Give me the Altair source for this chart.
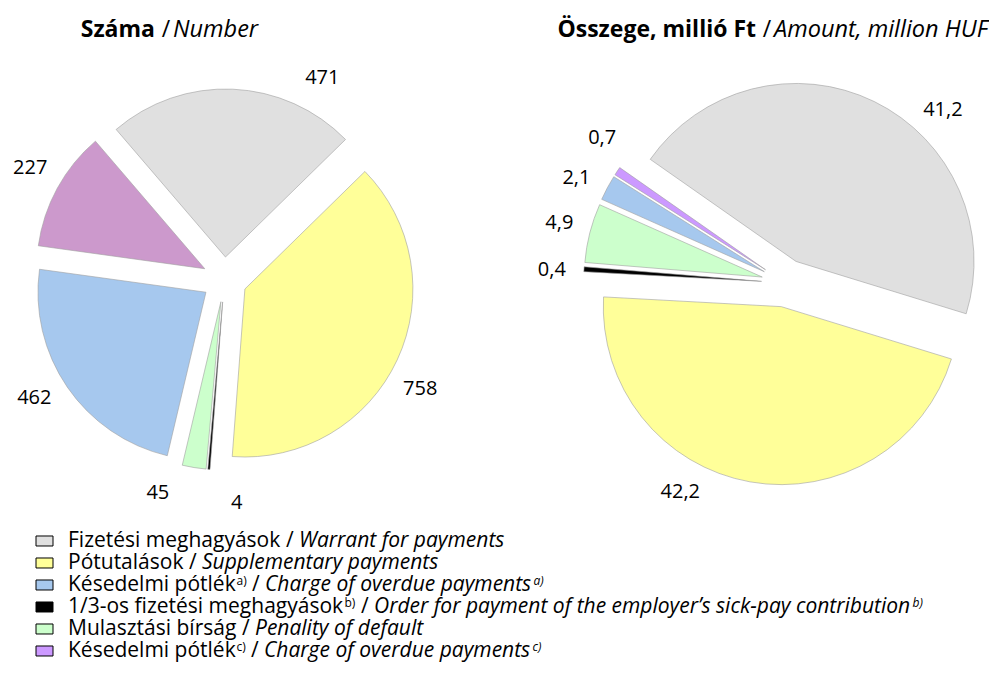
import math
import altair as alt
import pandas as pd

# ---------------- data ----------------
categories_hu = [
    "Fizetési meghagyások",
    "Pótutalások",
    "Késedelmi pótlék",
    "1/3-os fizetési meghagyások",
    "Mulasztási bírság",
    "Késedelmi pótlék",
]
categories_en = [
    "Warrant for payments",
    "Supplementary payments",
    "Charge of overdue payments",
    "Order for payment of the employer’s sick-pay contribution",
    "Penality of default",
    "Charge of overdue payments",
]
footnotes = ["", "", "a)", "b)", "", "c)"]

number_values = [471, 758, 462, 4, 45, 227]          # Száma / Number
amount_values = [41.2, 42.2, 2.1, 0.4, 4.9, 0.7]     # Összege, millió Ft

legend_colors = ["#e0e0e0", "#ffff99", "#a6c8ee", "#000000", "#ccffcc", "#cc99ff"]
number_colors = ["#e0e0e0", "#ffff99", "#a6c8ee", "#000000", "#ccffcc", "#cc99cc"]
amount_colors = ["#e0e0e0", "#ffff99", "#a6c8ee", "#000000", "#ccffcc", "#cc99ff"]

# clockwise order of the slices in both pies (indices into the lists above)
slice_order = [0, 1, 3, 4, 2, 5]

titles_hu = ["Száma", "Összege, millió Ft"]
titles_en = ["Number", "Amount, million HUF"]

# ---------------- layout / style ----------------
FONT = "Open Sans"
W, H = 981, 520
LABEL_GAP = 56
LABEL_YMIN = 70          # keep slice labels clear of the titles
LEG_FS = 21
SUP_FS = 12
ROW_H = 21.7
BASE_Y = 17

PIES = [
    dict(values=number_values, colors=number_colors, fmt=lambda v: f"{v:d}",
         start=-40.6, cx=216.5, cy=271.5, r=168, explode=22.5, title_x=158,
         min_px=80, frac=0.53),
    dict(values=amount_values, colors=amount_colors,
         fmt=lambda v: f"{v:.1f}".replace(".", ","),
         start=-55.0, cx=777.5, cy=275, r=178, explode=24, title_x=759,
         min_px=48, frac=0.60),
]


def label_angles(vals, start, frac):
    total = float(sum(vals))
    cum = 0.0
    out = []
    for v in vals:
        a0 = start + 360 * cum / total
        cum += v
        a1 = start + 360 * cum / total
        out.append(a0 + frac * (a1 - a0))
    return out


def spread(angs, min_sep):
    a = list(angs)
    for _ in range(500):
        moved = False
        for k in range(len(a) - 1):
            gap = a[k + 1] - a[k]
            if gap < min_sep - 1e-6:
                push = (min_sep - gap) / 2
                a[k] -= push
                a[k + 1] += push
                moved = True
        if not moved:
            break
    return a


def clamp_top(angs, cy, rl):
    out = []
    for a in angs:
        y = cy - rl * math.cos(math.radians(a))
        if y < LABEL_YMIN:
            lim = math.degrees(math.acos((cy - LABEL_YMIN) / rl))
            s = math.sin(math.radians(a))
            a = lim if s >= 0 else 360 - lim
        out.append(a)
    return out


theta_scale = alt.Scale(domain=[0, 360], range=[0, 2 * math.pi], nice=False, zero=False)


def pie_layers(p):
    vals = [p["values"][i] for i in slice_order]
    rl = p["r"] + LABEL_GAP
    angs = spread(label_angles(vals, p["start"], p["frac"]), math.degrees(p["min_px"] / rl))
    angs = clamp_top(angs, p["cy"], rl)
    df = pd.DataFrame({
        "order": list(range(len(slice_order))),
        "value": vals,
        "color": [p["colors"][i] for i in slice_order],
        "label": [p["fmt"](v) for v in vals],
        "lab_deg": angs,
    })
    cx, cy, d, s = p["cx"], p["cy"], p["explode"], p["start"]
    base = (
        alt.Chart(df)
        .transform_joinaggregate(total="sum(value)")
        .transform_window(cum1="sum(value)", sort=[alt.SortField("order")], frame=[None, 0])
        .transform_calculate(a0=f"{s} + 360*(datum.cum1 - datum.value)/datum.total")
        .transform_calculate(a1=f"{s} + 360*datum.cum1/datum.total")
        .transform_calculate(mid="(datum.a0 + datum.a1)/2*PI/180")
        .transform_calculate(cx=f"{cx} + {d}*sin(datum.mid)")
        .transform_calculate(cy=f"{cy} - {d}*cos(datum.mid)")
        .transform_calculate(lx=f"{cx} + {rl}*sin(datum.lab_deg*PI/180)")
        .transform_calculate(ly=f"{cy} - {rl}*cos(datum.lab_deg*PI/180)")
    )
    arcs = base.mark_arc(outerRadius=p["r"], stroke="#a0a0a0", strokeWidth=0.6).encode(
        theta=alt.Theta("a0:Q", scale=theta_scale),
        theta2=alt.Theta2("a1:Q"),
        x=alt.X("cx:Q", scale=None, axis=None),
        y=alt.Y("cy:Q", scale=None, axis=None),
        color=alt.Color("color:N", scale=None, legend=None),
    )
    labels = base.mark_text(font=FONT, fontSize=20, align="center", baseline="middle",
                            color="#000000").encode(
        x=alt.X("lx:Q", scale=None, axis=None),
        y=alt.Y("ly:Q", scale=None, axis=None),
        text=alt.Text("label:N"),
    )
    return [arcs, labels]


title_df = pd.DataFrame({
    "hu": titles_hu,
    "en": titles_en,
    "ax": [p["title_x"] for p in PIES],
})
tbase = alt.Chart(title_df).transform_calculate(
    bx="datum.ax - 11", ix="datum.ax + 7"
)
t_bold = tbase.mark_text(font=FONT, fontSize=23, fontWeight="bold", align="right",
                         baseline="alphabetic", color="#000").encode(
    x=alt.X("bx:Q", scale=None, axis=None), y=alt.value(28.7), text="hu:N")
t_slash = tbase.mark_text(font=FONT, fontSize=23, align="center", text="/",
                          baseline="alphabetic", color="#000").encode(
    x=alt.X("ax:Q", scale=None, axis=None), y=alt.value(28.7))
t_ital = tbase.mark_text(font=FONT, fontSize=23.5, fontStyle="italic", align="left",
                         baseline="alphabetic", color="#000").encode(
    x=alt.X("ix:Q", scale=None, axis=None), y=alt.value(28.7), text="en:N")

layers = []
for p in PIES:
    layers += pie_layers(p)
layers += [t_bold, t_slash, t_ital]
top = alt.layer(*layers).properties(width=W, height=H)

# ---------------- legend ----------------
legend_df = pd.DataFrame({
    "idx": list(range(len(categories_hu))),
    "hu": categories_hu,
    "en": categories_en,
    "sup": footnotes,
    "color": legend_colors,
})


def piece(sel, text_field, x, y, size, style="normal", with_swatch=False):
    txt = sel.mark_text(font=FONT, fontSize=size, fontStyle=style, align="left",
                        baseline="alphabetic", color="#000").encode(
        x=alt.value(x), y=alt.value(y), text=alt.Text(f"{text_field}:N"))
    if with_swatch:
        sw = sel.mark_rect(stroke="#000000", strokeWidth=1).encode(
            x=alt.value(28), x2=alt.value(45), y=alt.value(5.7), y2=alt.value(15.7),
            color=alt.Color("color:N", scale=None, legend=None))
        return alt.layer(sw, txt).properties(width=1, height=ROW_H)
    return txt.properties(width=1, height=ROW_H)


rows = []
for i in range(len(categories_hu)):
    sel = alt.Chart(legend_df).transform_filter(alt.datum.idx == i).transform_calculate(
        slash="'/'")
    parts = [piece(sel, "hu", 60, BASE_Y, LEG_FS, with_swatch=True)]
    if footnotes[i]:
        parts.append(piece(sel, "sup", 0.5, 10.5, SUP_FS))
    parts.append(piece(sel, "slash", 5, BASE_Y, LEG_FS))
    parts.append(piece(sel, "en", 5, BASE_Y, LEG_FS, style="italic"))
    if footnotes[i]:
        parts.append(piece(sel, "sup", 1.5, 10.5, SUP_FS, style="italic"))
    rows.append(alt.hconcat(*parts, spacing=0))

legend_block = alt.vconcat(*rows, spacing=0)

chart = alt.vconcat(top, legend_block, spacing=2.3).properties(padding=0).configure_view(stroke=None)

chart.save("out.html", embed_options={"renderer": "svg", "actions": False})
